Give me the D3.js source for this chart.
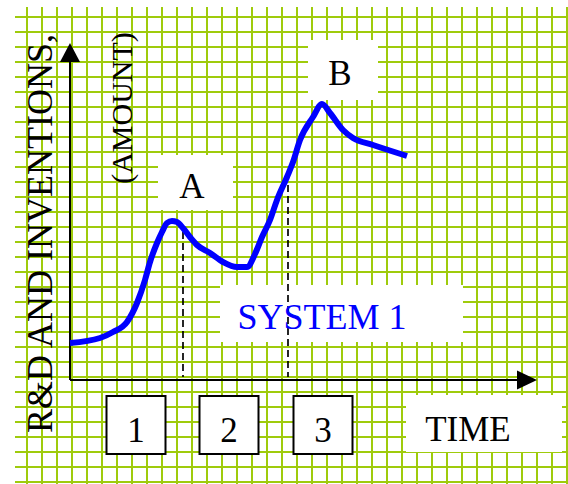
<!DOCTYPE html>
<html lang="en">
<head>
  <meta charset="utf-8">
  <title>System 1</title>
  <script src="https://cdn.jsdelivr.net/npm/d3@7"></script>
  <style>
    body { margin: 0; background: #fff; }
    text { font-family: "Liberation Serif", "DejaVu Serif", serif; }
  </style>
</head>
<body>
<svg id="chart" width="568" height="484"></svg>
<script>
  // curve (time units, amount units)
  var times   = [0, 3, 4.3, 5.7, 6.7, 7.5, 8, 8.7, 9.2, 9.7, 10.2, 10.7, 11.3, 12, 12.7, 14, 15.3,
                 16.7, 17.7, 18.5, 19.2, 20, 20.7, 21.7, 22.3, 23, 24.3, 25.2, 26, 27.3, 28.3, 30.3, 33.7];
  var amounts = [3.7, 4.2, 4.8, 5.8, 7.7, 10, 11.8, 13.7, 14.8, 15.7, 15.9, 15.8, 15.2, 14.3, 13.5, 12.7, 11.8,
                 11.3, 11.3, 12.6, 14.3, 16, 18, 20.3, 21.8, 24, 26.3, 27.6, 26.7, 25, 24.2, 23.5, 22.4];

  // dashed drop lines under the two peaks
  var markerTimes = [11.3, 21.8];
  var markerTops  = [14.8, 19.5];

  // phase boxes under the time axis
  var phases = ["1", "2", "3"];
  var phaseCenters = [6.6, 15.9, 25.3];

  var svg = d3.select("#chart");
  var W = 568, H = 484;

  var x = d3.scaleLinear().domain([0, 46.7]).range([70, 537]);
  var y = d3.scaleLinear().domain([0, 33.7]).range([380, 43]);

  // graph paper
  var green = "#9fcb0c";
  var grid = svg.append("g");
  grid.selectAll(".v").data(d3.range(27, W, 15)).enter().append("line")
    .attr("x1", d => d).attr("x2", d => d).attr("y1", 7).attr("y2", H)
    .attr("stroke", green).attr("stroke-width", 2);
  grid.selectAll(".h").data(d3.range(17, H, 15)).enter().append("line")
    .attr("x1", 15).attr("x2", W).attr("y1", d => d).attr("y2", d => d)
    .attr("stroke", green).attr("stroke-width", 2);

  // white patches behind labels
  var patches = [[308, 40, 70, 60], [158, 155, 75, 55], [220, 285, 243, 57], [406, 395, 156, 57]];
  svg.selectAll(".patch").data(patches).enter().append("rect")
    .attr("x", d => d[0]).attr("y", d => d[1]).attr("width", d => d[2]).attr("height", d => d[3])
    .attr("fill", "#fff");

  // axes with arrow heads
  svg.append("line").attr("x1", x(0)).attr("x2", x(0)).attr("y1", y(0)).attr("y2", y(33))
    .attr("stroke", "#000").attr("stroke-width", 2);
  svg.append("line").attr("x1", x(0)).attr("x2", x(46)).attr("y1", y(0)).attr("y2", y(0))
    .attr("stroke", "#000").attr("stroke-width", 2);
  svg.append("path")
    .attr("d", "M" + x(0) + "," + y(33.7) + "l-10,19h20z").attr("fill", "#000");
  svg.append("path")
    .attr("d", "M" + x(46.7) + "," + y(0) + "l-20,-9.5v19z").attr("fill", "#000");

  // dashed lines
  svg.selectAll(".drop").data(markerTimes).enter().append("line")
    .attr("x1", d => x(d)).attr("x2", d => x(d))
    .attr("y1", (d, i) => y(markerTops[i])).attr("y2", y(0.3))
    .attr("stroke", "#000").attr("stroke-width", 1.7).attr("stroke-dasharray", "7,4");

  // the curve
  var pts = times.map((t, i) => [t, amounts[i]]);
  var line = d3.line().x(d => x(d[0])).y(d => y(d[1])).curve(d3.curveMonotoneX);
  svg.append("path").attr("d", line(pts))
    .attr("fill", "none").attr("stroke", "#0000ff").attr("stroke-width", 6)
    .attr("stroke-linejoin", "round").attr("stroke-linecap", "butt");

  // phase boxes
  var box = svg.selectAll(".phase").data(phases).enter().append("g")
    .attr("transform", (d, i) => "translate(" + x(phaseCenters[i]) + ",425)");
  box.append("rect").attr("x", -29.5).attr("y", -29).attr("width", 59).attr("height", 58)
    .attr("fill", "#fff").attr("stroke", "#000").attr("stroke-width", 2);
  box.append("text").attr("y", 17).attr("text-anchor", "middle")
    .attr("font-size", 35).text(d => d);

  // labels
  svg.append("text").attr("x", 192).attr("y", 198).attr("text-anchor", "middle")
    .attr("font-size", 35).text("A");
  svg.append("text").attr("x", 340).attr("y", 85).attr("text-anchor", "middle")
    .attr("font-size", 35).text("B");
  svg.append("text").attr("x", 322).attr("y", 329).attr("text-anchor", "middle")
    .attr("font-size", 36).attr("fill", "#0000ff").text("SYSTEM 1");
  svg.append("text").attr("x", 468).attr("y", 441).attr("text-anchor", "middle")
    .attr("font-size", 35).text("TIME");

  svg.append("text").attr("transform", "translate(52,433) rotate(-90)")
    .attr("font-size", 36).text("R&D AND INVENTIONS,");
  svg.append("text").attr("transform", "translate(132,108) rotate(-90)")
    .attr("text-anchor", "middle").attr("font-size", 30).text("(AMOUNT)");
</script>
</body>
</html>
